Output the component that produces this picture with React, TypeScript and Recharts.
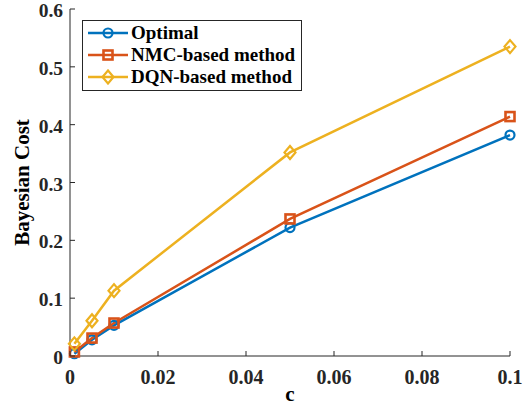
import React from 'react';
import { LineChart, Line, XAxis, YAxis } from 'recharts';

const cValues = [0.001, 0.005, 0.01, 0.05, 0.1];
const optimal = [0.004, 0.028, 0.053, 0.222, 0.382];
const nmcBased = [0.007, 0.031, 0.057, 0.237, 0.414];
const dqnBased = [0.021, 0.061, 0.113, 0.352, 0.535];
const xTicks = [0, 0.02, 0.04, 0.06, 0.08, 0.1];
const yTicks = [0, 0.1, 0.2, 0.3, 0.4, 0.5, 0.6];

const data = cValues.map((c, i) => ({
  c,
  optimal: optimal[i],
  nmc: nmcBased[i],
  dqn: dqnBased[i],
}));

const FONT = '"Liberation Serif", "Times New Roman", serif';
const BLUE = '#0072BD';
const ORANGE = '#D95319';
const YELLOW = '#EDB120';

const fmt = (v: number) => (v === 0 ? '0' : String(Number(v.toFixed(2))));

const BottomTick = (props: any) => {
  const { x, y, payload } = props;
  const axisY = y - 8;
  return (
    <g>
      <line x1={x} y1={axisY} x2={x} y2={axisY - 5} stroke="#262626" strokeWidth={1} />
      <text x={x} y={axisY + 28} textAnchor="middle" fontFamily={FONT} fontWeight="bold" fontSize={20} fill="#262626">
        {fmt(payload.value)}
      </text>
    </g>
  );
};

const TopTick = (props: any) => {
  const { x, y } = props;
  return <line x1={x} y1={y} x2={x} y2={y + 5} stroke="#262626" strokeWidth={1} />;
};

const LeftTick = (props: any) => {
  const { x, y, payload } = props;
  const axisX = x + 8;
  return (
    <g>
      <line x1={axisX} y1={y} x2={axisX + 5} y2={y} stroke="#262626" strokeWidth={1} />
      <text x={axisX - 7} y={y + 8} textAnchor="end" fontFamily={FONT} fontWeight="bold" fontSize={19.5} fill="#262626">
        {fmt(payload.value)}
      </text>
    </g>
  );
};

const RightTick = (props: any) => {
  const { x, y } = props;
  return <line x1={x} y1={y} x2={x - 5} y2={y} stroke="#262626" strokeWidth={1} />;
};

const marker = (kind: string, color: string, cx: number, cy: number, key?: any) => {
  if (kind === 'circle') {
    return <circle key={key} cx={cx} cy={cy} r={4.5} fill="none" stroke={color} strokeWidth={2.2} />;
  }
  if (kind === 'square') {
    return <rect key={key} x={cx - 4.5} y={cy - 4.5} width={9} height={9} fill="none" stroke={color} strokeWidth={2.6} />;
  }
  return (
    <polygon
      key={key}
      points={`${cx},${cy - 6.5} ${cx + 5.5},${cy} ${cx},${cy + 6.5} ${cx - 5.5},${cy}`}
      fill="none"
      stroke={color}
      strokeWidth={2.2}
    />
  );
};

const series = [
  { key: 'optimal', name: 'Optimal', color: BLUE, kind: 'circle' },
  { key: 'nmc', name: 'NMC-based method', color: ORANGE, kind: 'square' },
  { key: 'dqn', name: 'DQN-based method', color: YELLOW, kind: 'diamond' },
];

const LegendBox = () => (
  <div
    style={{
      position: 'absolute',
      left: 82,
      top: 20,
      border: '1px solid #262626',
      background: '#fff',
      padding: '1px 6px 2px 4px',
      fontFamily: FONT,
      fontWeight: 'bold',
      fontSize: 19,
      color: '#000',
      lineHeight: '22px',
    }}
  >
    {series.map((s) => (
      <div key={s.key} style={{ display: 'flex', alignItems: 'center', whiteSpace: 'nowrap' }}>
        <svg width={43} height={16} style={{ marginRight: 1 }}>
          <line x1={1} y1={8} x2={41} y2={8} stroke={s.color} strokeWidth={2.5} />
          {marker(s.kind, s.color, 21, 8)}
        </svg>
        <span>{s.name}</span>
      </div>
    ))}
  </div>
);

export default function App() {
  return (
    <div style={{ position: 'absolute', left: 0, top: 0, width: 525, height: 406, background: '#fff' }}>
      <LineChart width={525} height={406} data={data} margin={{ top: 9, right: 15, bottom: 0, left: 0 }}>
        <XAxis
          xAxisId="bottom"
          dataKey="c"
          type="number"
          domain={[0, 0.1]}
          ticks={xTicks}
          tick={<BottomTick />}
          tickLine={false}
          tickSize={0}
          tickMargin={8}
          height={50}
          axisLine={{ stroke: '#262626', strokeWidth: 1 }}
          label={{ value: 'c', position: 'insideBottom', offset: 5, fontFamily: FONT, fontWeight: 'bold', fontSize: 21, fill: '#000' }}
        />
        <XAxis
          xAxisId="top"
          orientation="top"
          dataKey="c"
          type="number"
          domain={[0, 0.1]}
          ticks={xTicks}
          tick={<TopTick />}
          tickLine={false}
          tickSize={0}
          tickMargin={0}
          height={0}
          axisLine={{ stroke: '#262626', strokeWidth: 1 }}
        />
        <YAxis
          yAxisId="left"
          type="number"
          domain={[0, 0.6]}
          ticks={yTicks}
          tick={<LeftTick />}
          tickLine={false}
          tickSize={0}
          tickMargin={8}
          width={70}
          axisLine={{ stroke: '#262626', strokeWidth: 1 }}
          label={{ value: 'Bayesian Cost', angle: -90, position: 'insideLeft', offset: 22, style: { textAnchor: 'middle' }, fontFamily: FONT, fontWeight: 'bold', fontSize: 21, fill: '#000' }}
        />
        <YAxis
          yAxisId="right"
          orientation="right"
          type="number"
          domain={[0, 0.6]}
          ticks={yTicks}
          tick={<RightTick />}
          tickLine={false}
          tickSize={0}
          tickMargin={0}
          width={0}
          axisLine={{ stroke: '#262626', strokeWidth: 1 }}
        />
        {series.map((s) => (
          <Line
            key={s.key}
            xAxisId="bottom"
            yAxisId="left"
            dataKey={s.key}
            name={s.name}
            stroke={s.color}
            strokeWidth={2.5}
            type="linear"
            isAnimationActive={false}
            dot={(p: any) => marker(s.kind, s.color, p.cx, p.cy, `${s.key}-${p.index}`)}
            activeDot={false}
          />
        ))}
      </LineChart>
      <LegendBox />
    </div>
  );
}
